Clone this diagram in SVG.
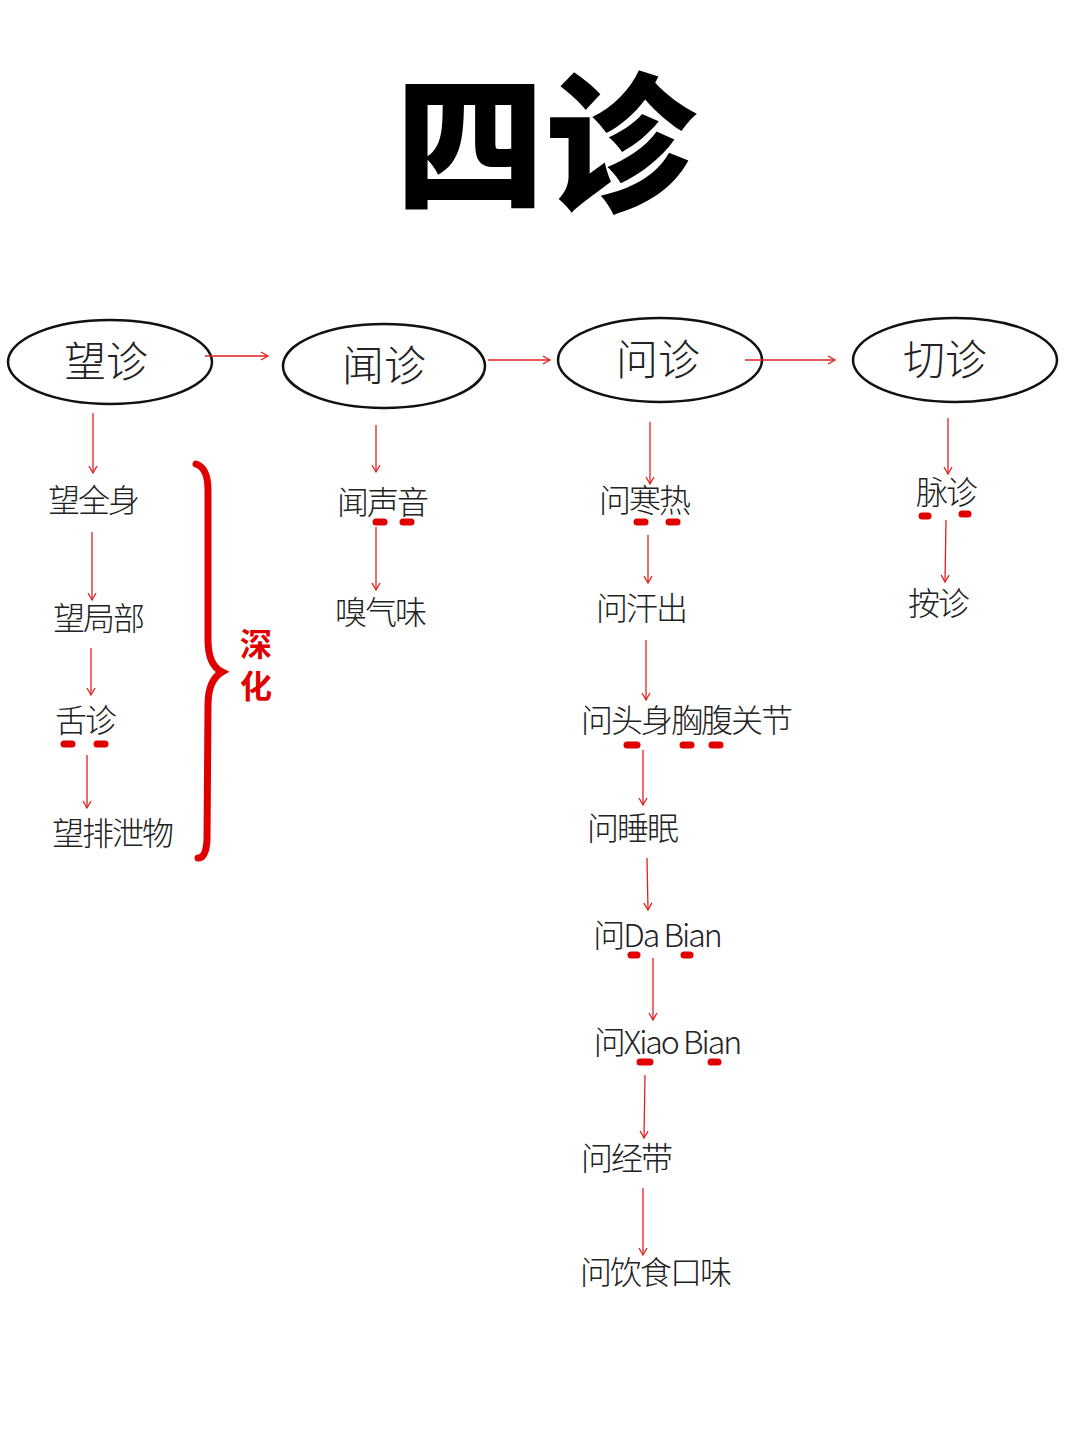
<svg xmlns="http://www.w3.org/2000/svg" width="1080" height="1439" viewBox="0 0 1080 1439">
<defs>
<marker id="ah" markerWidth="10" markerHeight="10" refX="8" refY="5" orient="auto" markerUnits="userSpaceOnUse">
<path d="M1,1 L8,5 L1,9" fill="none" stroke="#e02020" stroke-width="1.3"/>
</marker>
<style>
.n{fill:none;stroke:#111;stroke-width:2.5}
.t{font-family:"Noto Sans CJK SC","Noto Sans",sans-serif;font-size:32px;fill:#222;text-anchor:middle;font-weight:300;letter-spacing:-2px}
.h{font-family:"Noto Sans CJK SC",sans-serif;font-size:42px;fill:#222;text-anchor:middle;font-weight:300}
.c line{stroke:#e02020;stroke-width:1.3;marker-end:url(#ah)}
.d line{stroke:#e00000;stroke-width:7;stroke-linecap:round}
</style>
</defs>
<rect width="1080" height="1439" fill="#fff"/>
<text x="545" y="200" font-family="Noto Sans CJK SC,sans-serif" font-size="150" font-weight="900" text-anchor="middle" fill="#000">四诊</text>
<g id="wangzhen"><ellipse cx="110" cy="362" rx="102" ry="42" class="n"/><text x="106" y="377" class="h">望诊</text></g>
<g id="wenzhen1"><ellipse cx="384" cy="366" rx="101" ry="42" class="n"/><text x="384" y="381" class="h">闻诊</text></g>
<g id="wenzhen2"><ellipse cx="660" cy="360" rx="102" ry="42" class="n"/><text x="658" y="375" class="h">问诊</text></g>
<g id="qiezhen"><ellipse cx="955" cy="360" rx="102" ry="42" class="n"/><text x="945" y="375" class="h">切诊</text></g>
<g id="w1"><text x="93" y="512" class="t">望全身</text></g>
<g id="w2"><text x="98" y="630" class="t">望局部</text></g>
<g id="w3"><text x="85" y="732" class="t">舌诊</text></g>
<g id="w4"><text x="112" y="845" class="t">望排泄物</text></g>
<g id="v1"><text x="382" y="514" class="t">闻声音</text></g>
<g id="v2"><text x="380" y="624" class="t">嗅气味</text></g>
<g id="q1"><text x="644" y="512" class="t">问寒热</text></g>
<g id="q2"><text x="641" y="620" class="t">问汗出</text></g>
<g id="q3"><text x="686" y="732" class="t">问头身胸腹关节</text></g>
<g id="q4"><text x="632" y="840" class="t">问睡眠</text></g>
<g id="q5"><text x="657" y="947" class="t">问Da Bian</text></g>
<g id="q6"><text x="667" y="1054" class="t">问Xiao Bian</text></g>
<g id="q7"><text x="626" y="1170" class="t">问经带</text></g>
<g id="q8"><text x="655" y="1284" class="t">问饮食口味</text></g>
<g id="p1"><text x="946" y="504" class="t">脉诊</text></g>
<g id="p2"><text x="938" y="615" class="t">按诊</text></g>
<g id="brace"><path d="M196,464 Q208,468 208,490 L208,640 Q208,665 222,672 Q208,680 208,705 L207,840 Q206,858 198,858" fill="none" stroke="#e00000" stroke-width="7" stroke-linecap="round"/>
<text x="256" y="656" font-family="Noto Sans CJK SC,sans-serif" font-size="32" fill="#e00000" text-anchor="middle" font-weight="700">深</text>
<text x="256" y="698" font-family="Noto Sans CJK SC,sans-serif" font-size="32" fill="#e00000" text-anchor="middle" font-weight="700">化</text></g>
<g class="d">
<line x1="376" y1="522" x2="384" y2="522"/><line x1="403" y1="522" x2="411" y2="522"/>
<line x1="637" y1="522" x2="645" y2="522"/><line x1="669" y1="522" x2="677" y2="522"/>
<line x1="64" y1="744" x2="72" y2="744"/><line x1="97" y1="744" x2="105" y2="744"/>
<line x1="627" y1="745" x2="637" y2="745"/><line x1="683" y1="745" x2="691" y2="745"/><line x1="712" y1="745" x2="720" y2="745"/>
<line x1="631" y1="955" x2="637" y2="955"/><line x1="684" y1="955" x2="690" y2="955"/>
<line x1="640" y1="1062" x2="650" y2="1062"/><line x1="711" y1="1062" x2="718" y2="1062"/>
<line x1="922" y1="516" x2="928" y2="516"/><line x1="962" y1="514" x2="968" y2="514"/>
</g>
<g id="connectors" class="c">
<line x1="205" y1="356" x2="268" y2="356"/>
<line x1="488" y1="360" x2="550" y2="360"/>
<line x1="745" y1="360" x2="835" y2="360"/>
<line x1="93" y1="413" x2="93" y2="473"/>
<line x1="92" y1="532" x2="92" y2="600"/>
<line x1="91" y1="648" x2="91" y2="695"/>
<line x1="87" y1="755" x2="87" y2="808"/>
<line x1="376" y1="425" x2="376" y2="472"/>
<line x1="376" y1="527" x2="376" y2="590"/>
<line x1="650" y1="422" x2="650" y2="484"/>
<line x1="648" y1="535" x2="648" y2="583"/>
<line x1="646" y1="640" x2="646" y2="700"/>
<line x1="643" y1="750" x2="643" y2="805"/>
<line x1="647" y1="858" x2="648" y2="910"/>
<line x1="653" y1="958" x2="653" y2="1020"/>
<line x1="645" y1="1075" x2="644" y2="1138"/>
<line x1="643" y1="1188" x2="643" y2="1255"/>
<line x1="948" y1="418" x2="948" y2="474"/>
<line x1="946" y1="520" x2="945" y2="582"/>
</g>
</svg>
